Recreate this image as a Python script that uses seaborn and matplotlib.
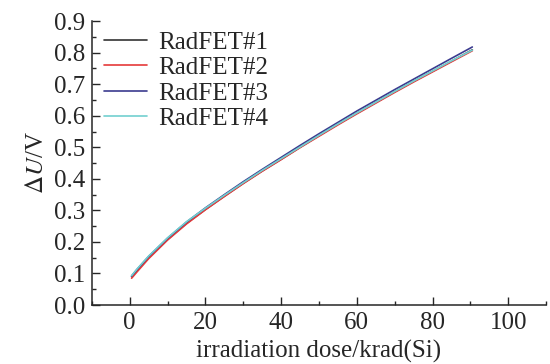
import numpy as np
import pandas as pd
import seaborn as sns
import matplotlib
matplotlib.use("Agg")
import matplotlib.pyplot as plt
from matplotlib.ticker import MultipleLocator, FormatStrFormatter

# dose in krad(Si)
dose = [0.5, 2, 5, 10, 15, 20, 25, 30, 35, 40, 45, 50, 55, 60, 65, 70, 75, 80, 85, 90.5]

radfet1 = [0.090, 0.110, 0.150, 0.208, 0.259, 0.303, 0.345, 0.386, 0.425, 0.462, 0.500,
           0.537, 0.573, 0.608, 0.642, 0.676, 0.709, 0.741, 0.773, 0.809]
radfet2 = [0.085, 0.106, 0.147, 0.206, 0.257, 0.302, 0.344, 0.385, 0.424, 0.461, 0.499,
           0.535, 0.571, 0.606, 0.640, 0.674, 0.707, 0.739, 0.771, 0.806]
radfet3 = [0.092, 0.114, 0.154, 0.212, 0.263, 0.308, 0.350, 0.391, 0.430, 0.468, 0.506,
           0.543, 0.579, 0.615, 0.649, 0.683, 0.716, 0.749, 0.782, 0.818]
radfet4 = [0.093, 0.115, 0.155, 0.213, 0.264, 0.307, 0.348, 0.388, 0.427, 0.464, 0.501,
           0.538, 0.574, 0.609, 0.643, 0.677, 0.710, 0.742, 0.774, 0.808]

names = ["RadFET#1", "RadFET#2", "RadFET#3", "RadFET#4"]
colors = ["#333333", "#e53a3a", "#3b3b8f", "#72cfd0"]

df = pd.concat([
    pd.DataFrame({"dose": dose, "dU": vals, "device": name})
    for name, vals in zip(names, [radfet1, radfet2, radfet3, radfet4])
])

sns.set_style("ticks")
plt.rcParams["font.family"] = ["Liberation Serif", "DejaVu Serif"]
plt.rcParams["mathtext.fontset"] = "stix"

fig, ax = plt.subplots(figsize=(5.5, 3.64), dpi=100)
fig.subplots_adjust(left=0.167, right=0.993, bottom=0.162, top=0.942)

sns.lineplot(data=df, x="dose", y="dU", hue="device", palette=colors,
             linewidth=1.2, ax=ax)

ax.set_xlim(-10, 110)
ax.set_ylim(0, 0.9)
ax.xaxis.set_major_locator(MultipleLocator(20))
ax.xaxis.set_minor_locator(MultipleLocator(10))
ax.yaxis.set_major_locator(MultipleLocator(0.1))
ax.yaxis.set_minor_locator(MultipleLocator(0.05))
ax.yaxis.set_major_formatter(FormatStrFormatter("%.1f"))
ax.tick_params(which="major", direction="in", length=6, width=1, labelsize=18, pad=5)
ax.tick_params(which="minor", direction="in", length=3, width=1)

for side in ["top", "right"]:
    ax.spines[side].set_visible(False)
for side in ["left", "bottom"]:
    ax.spines[side].set_linewidth(1.1)

ax.set_xlabel("irradiation dose/krad(Si)", fontsize=18, labelpad=4)
ax.set_ylabel(r"$\Delta U$/V", fontsize=18, labelpad=4)

leg = ax.legend(loc="upper left", frameon=False, fontsize=18, handlelength=1.7,
                handletextpad=0.45, labelspacing=0.12, borderaxespad=0.0,
                bbox_to_anchor=(0.005, 1.0))

fig.savefig("out.png", dpi=100)
